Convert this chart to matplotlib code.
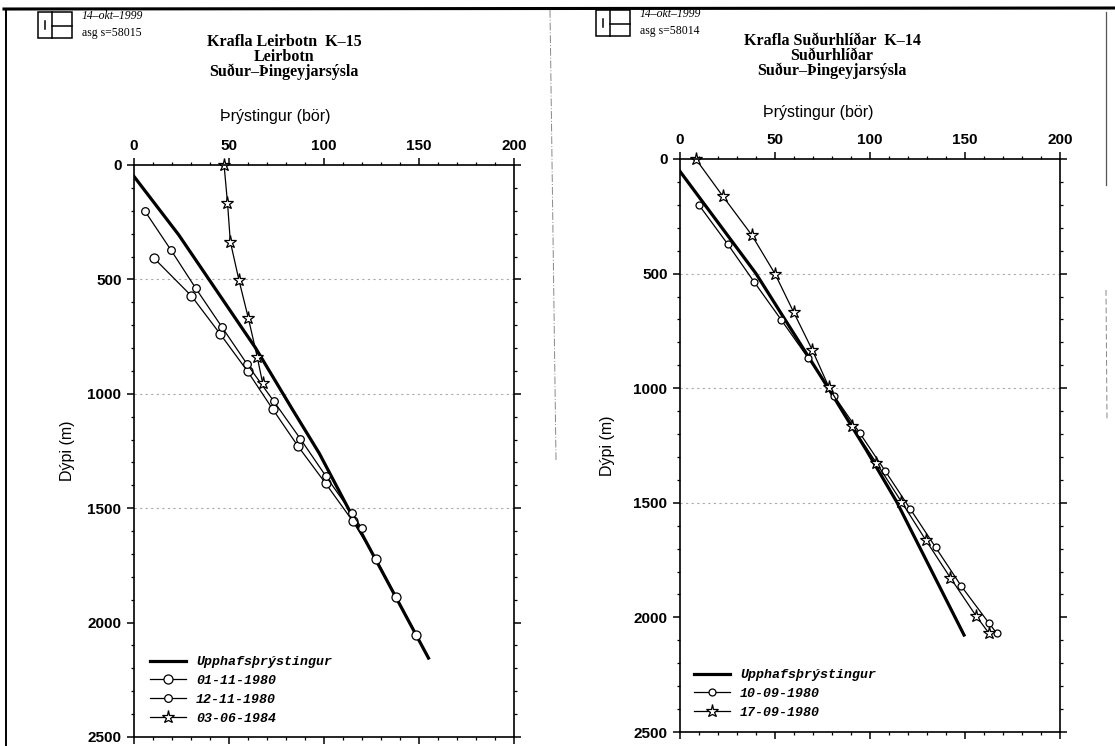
import matplotlib
matplotlib.use("Agg")
import matplotlib.pyplot as plt
from matplotlib.lines import Line2D
from matplotlib.patches import Rectangle
from matplotlib.ticker import MultipleLocator

# ---------------- data ----------------
# Left: Krafla Leirbotn K-15
L_init_p = [0, 23.5, 64, 83, 97.5, 114, 155]
L_init_d = [50, 305, 800, 1063, 1260, 1520, 2155]
L_0111_p = [10.6, 30.2, 45.4, 59.8, 72.9, 86.4, 100.8, 115.0, 127.5, 138.1, 148.6]
L_0111_d = [408, 572, 739, 902, 1066, 1230, 1391, 1555, 1723, 1890, 2055]
L_1211_p = [5.7, 19.4, 32.5, 46.1, 59.5, 73.6, 87.5, 100.9, 114.7, 119.8]
L_1211_d = [201, 371, 539, 706, 870, 1033, 1196, 1359, 1522, 1587]
L_0306_p = [47.4, 49.2, 50.7, 55.2, 60.2, 64.8, 67.7]
L_0306_d = [0, 164, 335, 502, 670, 837, 953]

# Right: Krafla Suðurhlíðar K-14
R_init_p = [0, 40, 77, 98, 114, 149.5]
R_init_d = [54, 500, 986, 1269, 1495, 2077]
R_1009_p = [9.9, 25.0, 38.9, 53.3, 67.5, 81.0, 94.7, 107.9, 121.2, 134.5, 148.0, 162.5, 166.8]
R_1009_d = [200, 370, 535, 702, 869, 1032, 1197, 1360, 1527, 1694, 1863, 2024, 2070]
R_1709_p = [8.3, 22.6, 37.7, 50.0, 59.8, 69.6, 78.4, 90.4, 103.3, 116.5, 129.3, 142.3, 155.8, 162.7]
R_1709_d = [0, 163, 331, 501, 668, 833, 996, 1165, 1325, 1495, 1662, 1827, 1993, 2070]

x_ticks = [0, 50, 100, 150, 200]
y_ticks = [0, 500, 1000, 1500, 2000, 2500]
grid_depths = [500, 1000, 1500]

W, H = 1115, 746
fig = plt.figure(figsize=(W / 100, H / 100), dpi=100)


def fx(x):
    return x / W


def fy(y):
    return 1 - y / H


def fline(xs, ys, **kw):
    fig.add_artist(Line2D([fx(v) for v in xs], [fy(v) for v in ys],
                          transform=fig.transFigure, **kw))


def ftext(x, y, s, **kw):
    fig.text(fx(x), fy(y), s, **kw)


# page borders (scan look)
fline([4, 1115], [9, 8], color="black", lw=2.2)
fline([6, 6], [9, 746], color="black", lw=1.4)
fline([550, 556], [10, 460], color="#888888", lw=0.7, ls=(0, (8, 2, 1, 2)))
fline([1106, 1106], [12, 185], color="#555555", lw=0.9)
fline([1106, 1107], [290, 420], color="#888888", lw=0.7, ls=(0, (6, 3)))


def logo(x0, y0, w, h):
    lw = 1.1
    fig.add_artist(Rectangle((fx(x0), fy(y0 + h)), w / W, h / H, fill=False,
                             lw=lw, ec="black", transform=fig.transFigure))
    fline([x0 + 0.42 * w, x0 + 0.42 * w], [y0, y0 + h], color="black", lw=lw)
    fline([x0 + 0.42 * w, x0 + w], [y0 + 0.55 * h, y0 + 0.55 * h], color="black", lw=lw)
    fline([x0 + 0.21 * w, x0 + 0.21 * w], [y0 + 0.35 * h, y0 + 0.65 * h], color="black", lw=lw)


def header(lx, ly, date, asg, title_lines, tx, ty, px_, py_):
    logo(lx, ly, 34, 26)
    ftext(lx + 44, ly + 4, date, fontsize=8.5, family="Liberation Serif",
          style="italic", va="center", ha="left")
    ftext(lx + 44, ly + 21, asg, fontsize=8.5, family="Liberation Serif",
          va="center", ha="left")
    for i, s in enumerate(title_lines):
        ftext(tx, ty + 15 * i, s, fontsize=11.5, family="Liberation Serif",
              weight="bold", ha="center", va="center")
    ftext(px_, py_, "Þrýstingur (bör)", fontsize=11.5, family="Liberation Sans",
          ha="center", va="center")


header(38, 12, "14–okt–1999", "asg s=58015",
       ["Krafla Leirbotn  K–15", "Leirbotn", "Suður–Þingeyjarsýsla"],
       284, 42, 275, 117)
header(596, 10, "14–okt–1999", "asg s=58014",
       ["Krafla Suðurhlíðar  K–14", "Suðurhlíðar", "Suður–Þingeyjarsýsla"],
       832, 41, 818, 113)


def make_axes(x0, x1, ytop, ybot):
    ax = fig.add_axes([fx(x0), fy(ybot), (x1 - x0) / W, (ybot - ytop) / H])
    ax.set_xlim(0, 200)
    ax.set_ylim(2500, 0)
    ax.set_xticks(x_ticks)
    ax.set_yticks(y_ticks)
    ax.xaxis.set_minor_locator(MultipleLocator(10))
    ax.yaxis.set_minor_locator(MultipleLocator(100))
    ax.tick_params(axis="x", which="both", top=True, bottom=True,
                   labeltop=True, labelbottom=False, direction="out")
    ax.tick_params(axis="y", which="both", left=True, right=True,
                   labelleft=True, labelright=False, direction="out")
    ax.tick_params(which="major", length=5, width=1.1, pad=4)
    ax.tick_params(which="minor", length=2.5, width=0.9)
    for lab in ax.get_xticklabels() + ax.get_yticklabels():
        lab.set_fontfamily("Liberation Sans")
        lab.set_fontweight("bold")
        lab.set_fontsize(11)
    for sp in ax.spines.values():
        sp.set_linewidth(1.2)
    for g in grid_depths:
        ax.axhline(g, color="#aaaaaa", lw=0.8, ls=(0, (2, 3)), zorder=0)
    ax.set_ylabel("Dýpi (m)", fontsize=11.5, family="Liberation Sans", labelpad=6)
    return ax


legend_font = dict(family="Liberation Mono", style="italic", weight="bold", size=9.5)

# ---------------- left ----------------
axL = make_axes(134, 514, 165, 737)
axL.plot(L_init_p, L_init_d, color="black", lw=2.3, label="Upphafsþrýstingur")
axL.plot(L_0111_p, L_0111_d, color="black", lw=0.9, marker="o", ms=6.5,
         mfc="white", mec="black", mew=0.9, label="01-11-1980")
axL.plot(L_1211_p, L_1211_d, color="black", lw=0.9, marker="o", ms=5.5,
         mfc="white", mec="black", mew=0.9, label="12-11-1980")
axL.plot(L_0306_p, L_0306_d, color="black", lw=0.9, marker="*", ms=9.5,
         mfc="white", mec="black", mew=0.9, label="03-06-1984", clip_on=False)
axL.legend(loc="upper left", bbox_to_anchor=(fx(150), fy(656)),
           bbox_transform=fig.transFigure, frameon=False, prop=legend_font,
           handlelength=2.7, handletextpad=0.8, labelspacing=0.5,
           borderpad=0, borderaxespad=0)
axL.yaxis.set_label_coords(-0.155, 0.5)

# ---------------- right ----------------
axR = make_axes(680, 1060, 159, 732)
axR.plot(R_init_p, R_init_d, color="black", lw=2.3, label="Upphafsþrýstingur")
axR.plot(R_1009_p, R_1009_d, color="black", lw=0.9, marker="o", ms=5,
         mfc="white", mec="black", mew=0.9, label="10-09-1980")
axR.plot(R_1709_p, R_1709_d, color="black", lw=0.9, marker="*", ms=9.5,
         mfc="white", mec="black", mew=0.9, label="17-09-1980", clip_on=False)
axR.legend(loc="upper left", bbox_to_anchor=(fx(694), fy(669)),
           bbox_transform=fig.transFigure, frameon=False, prop=legend_font,
           handlelength=2.7, handletextpad=0.8, labelspacing=0.5,
           borderpad=0, borderaxespad=0)
axR.yaxis.set_label_coords(-0.17, 0.5)

fig.savefig("out.png", dpi=100)
